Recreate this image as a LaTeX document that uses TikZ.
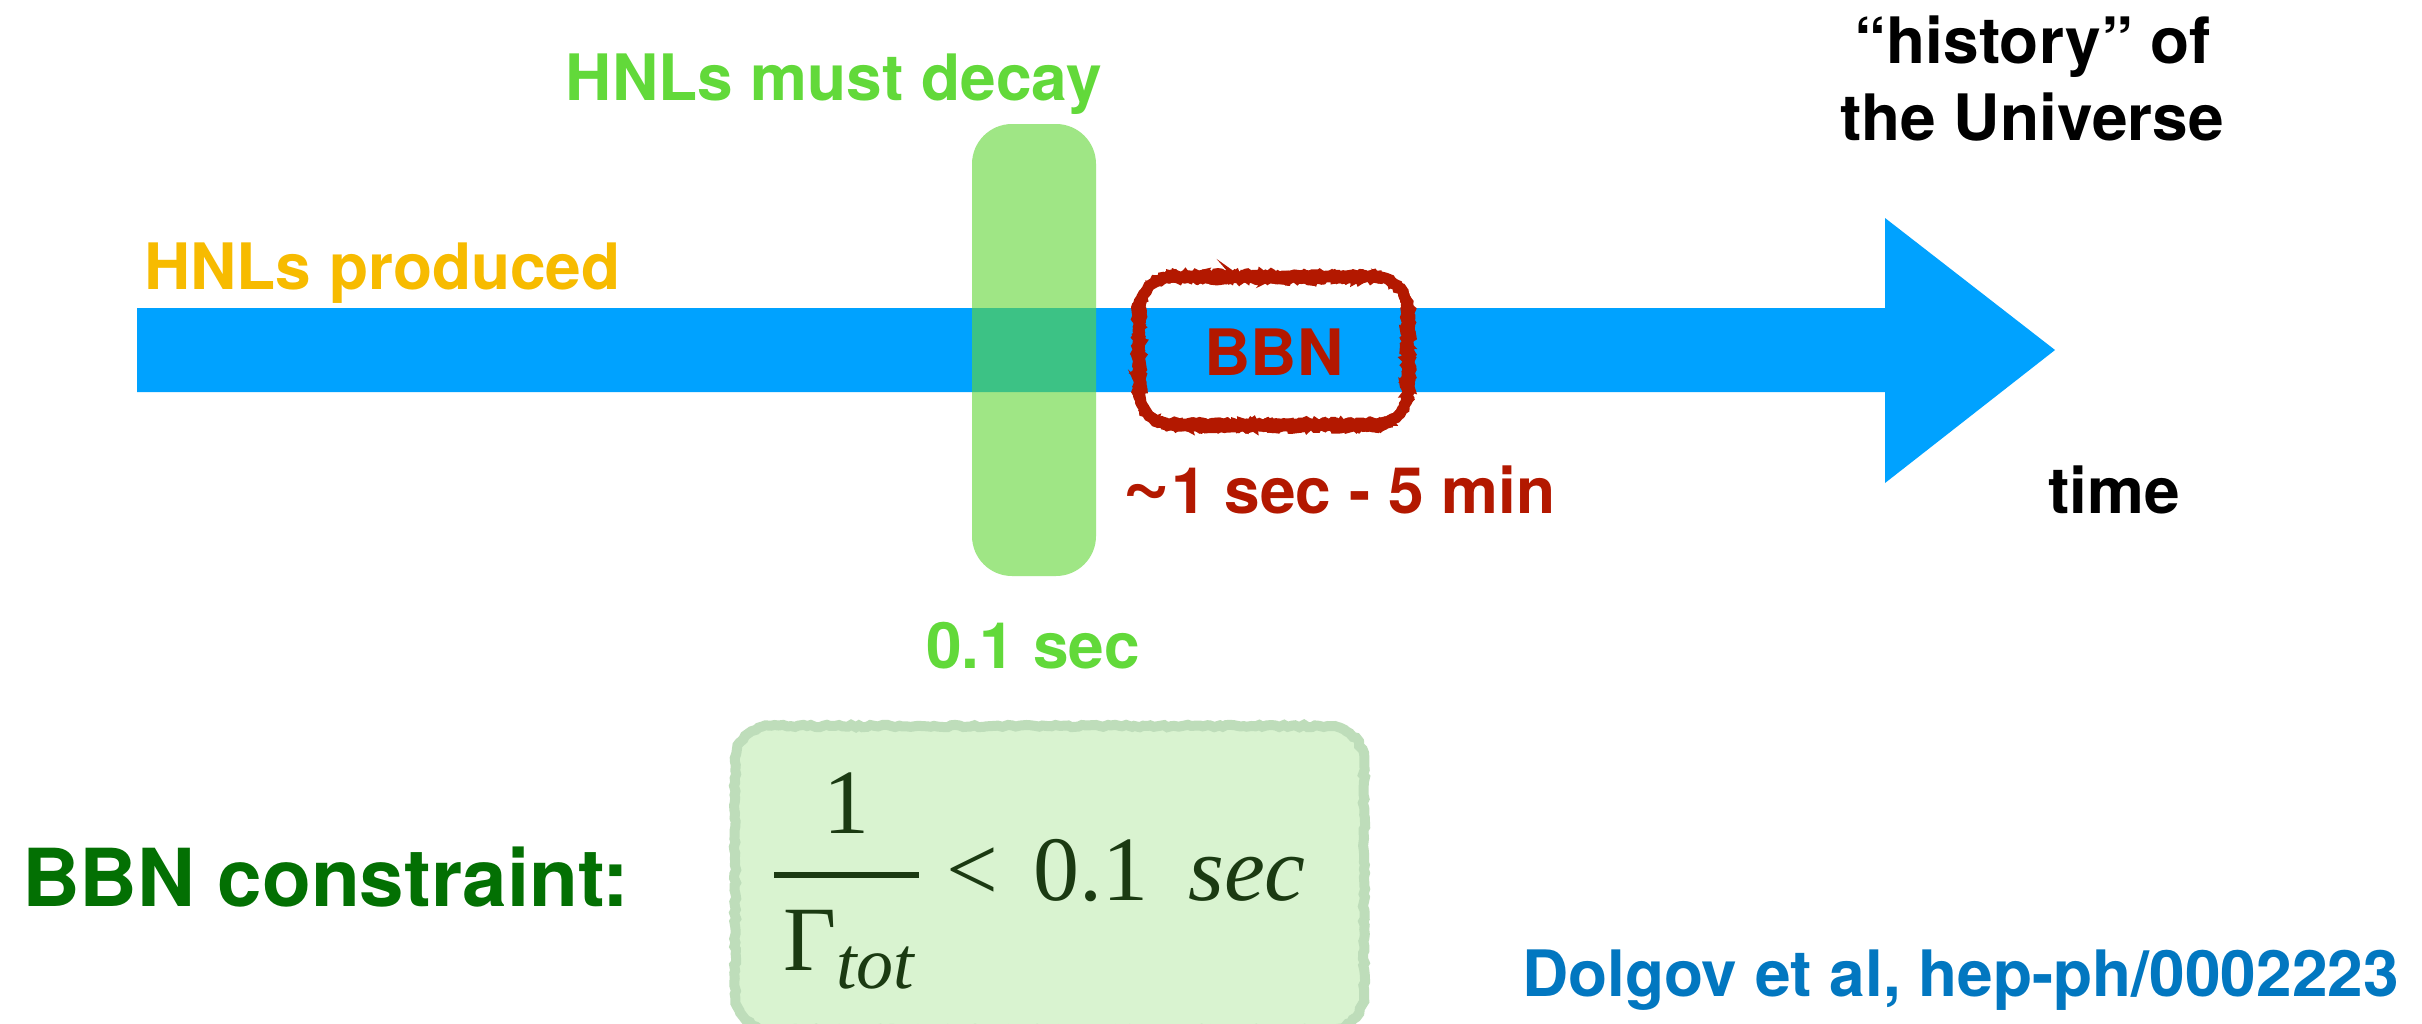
\documentclass[tikz,border=0pt]{standalone}
\usepackage{fontspec}
\setmainfont{TeX Gyre Heros}
\newfontfamily\formulafont{Liberation Serif}
\usetikzlibrary{decorations.pathmorphing}

\definecolor{arrowblue}{RGB}{0,162,255}
\definecolor{decaygreen}{RGB}{99,215,56}
\definecolor{labelgreen}{RGB}{98,217,58}
\definecolor{prodyellow}{RGB}{247,187,0}
\definecolor{bbnred}{RGB}{179,24,0}
\definecolor{darkgreen}{RGB}{3,112,3}
\definecolor{citeblue}{RGB}{2,119,192}
\definecolor{formulaink}{RGB}{27,58,18}
\definecolor{formulafill}{RGB}{217,243,208}
\definecolor{formulaedge}{RGB}{190,221,186}

% rounded rectangle outline built from lines and arcs (y axis points down)
% #1,#2 = top-left, #3,#4 = bottom-right, #5 = corner radius
\newcommand{\roundbox}[5]{%
  (#1,#2+#5) arc[start angle=180, end angle=270, radius=#5]
  -- (#3-#5,#2) arc[start angle=270, end angle=360, radius=#5]
  -- (#3,#4-#5) arc[start angle=0, end angle=90, radius=#5]
  -- (#1+#5,#4) arc[start angle=90, end angle=180, radius=#5] -- cycle}

\begin{document}
\begin{tikzpicture}[x=1pt,y=-1pt,
  lbl/.style={inner sep=0pt, font=\bfseries\fontsize{64}{64}\selectfont},
  biglbl/.style={inner sep=0pt, font=\bfseries\fontsize{80}{80}\selectfont},
  fml/.style={inner sep=0pt, text=formulaink, font=\formulafont\fontsize{92}{92}\selectfont}
]
\useasboundingbox (0,0) rectangle (2422,1023);
\fill[white] (0,0) rectangle (2422,1023);

% time arrow
\fill[arrowblue] (137,308) -- (1885,308) -- (1885,218) -- (2055,350)
  -- (1885,483) -- (1885,392) -- (137,392) -- cycle;

% decay window
\fill[decaygreen, fill opacity=0.61, rounded corners=40] (972,124) rectangle (1096,576);

% hand-drawn ring around BBN: a few overlapping rough strokes
\foreach \s/\w/\a/\d in {3/11/1.2/0, 11/6/1.8/3, 29/6/2/-3, 41/4/2.4/4.5, 53/4/2.4/-4.5}{
  \pgfmathsetseed{\s}
  \draw[bbnred, line width=\w, decorate,
        decoration={random steps, segment length=3, amplitude=\a}]
    \roundbox{1139-\d}{277+\d}{1408+\d}{425-\d}{34};
}

% labels along the time line
\node[lbl, text=prodyellow, anchor=base west] (prod) at (144,289) {HNLs produced};
\node[lbl, text=labelgreen, anchor=base] (decay) at (834,100) {HNLs must decay};
\node[lbl, text=labelgreen, anchor=base] (tdecay) at (1033,668) {0.1 sec};
\node[lbl, text=bbnred, anchor=base] (bbn) at (1274,375) {BBN};
\node[lbl, text=bbnred, anchor=base] (tbbn) at (1339,513)
  {\raisebox{3pt}{\scalebox{1.3}{\textasciitilde}}1 sec - 5 min};
\node[lbl, anchor=base] (hist1) at (2033,63) {“history” of};
\node[lbl, anchor=base] (hist2) at (2032,140) {the Universe};
\node[lbl, anchor=base] (time) at (2114,513) {time};

% constraint
\node[biglbl, text=darkgreen, anchor=base west] (constr) at (22,906) {BBN constraint:};

\begin{scope}
  \clip (0,0) rectangle (2422,1023);
  \pgfmathsetseed{7}
  \fill[formulafill] \roundbox{735}{726}{1364}{1030}{36};
  \draw[formulaedge, line width=10, decorate,
        decoration={random steps, segment length=4, amplitude=1.2}]
    \roundbox{735}{726}{1364}{1030}{36};
\end{scope}

\node[fml, anchor=base] (num) at (846,833) {1};
\coordinate (barL) at (774,875);
\coordinate (barR) at (919,875);
\draw[formulaink, line width=6] (barL) -- (barR);
\node[fml, anchor=base west] (den) at (783,970) {Γ\raisebox{-18pt}{\fontsize{74}{74}\selectfont\itshape tot}};
\node[fml, anchor=base] (lt) at (972,900) {<};
\node[fml, anchor=base west] (val) at (1033,900) {0.1};
\node[fml, anchor=base west] (unit) at (1188,900) {\itshape sec};

% reference
\node[lbl, text=citeblue, anchor=base east] (cite) at (2399,996) {Dolgov et al, hep-ph/0002223};
\end{tikzpicture}
\end{document}
